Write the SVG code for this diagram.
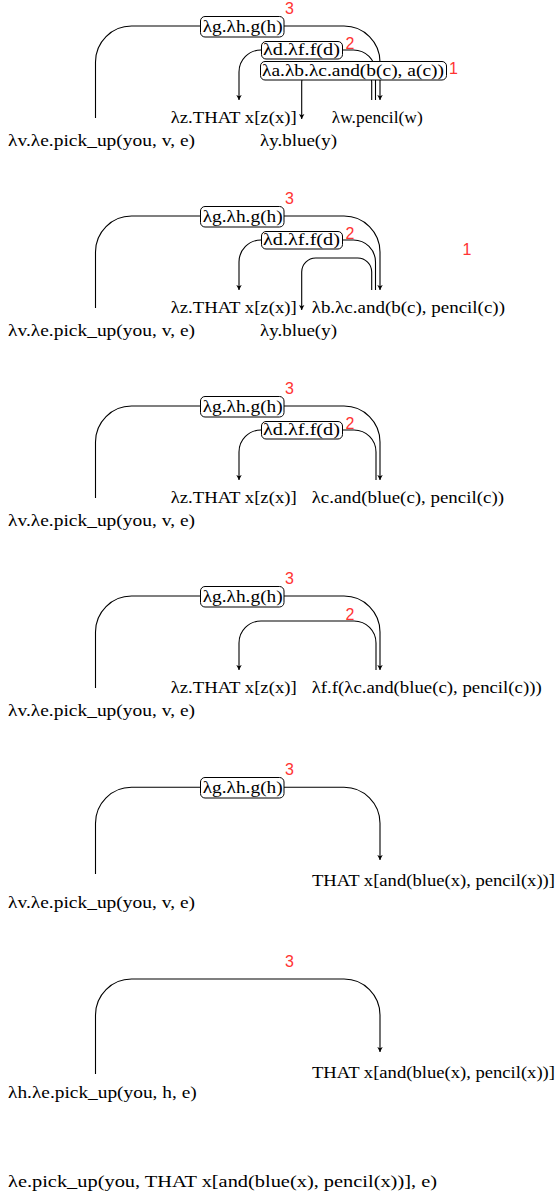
<svg xmlns="http://www.w3.org/2000/svg" width="558" height="1196" viewBox="0 0 558 1196">
<style>
.t{font-family:"Liberation Serif",serif;font-size:17px;fill:#000}
.n{font-family:"Liberation Sans",sans-serif;font-size:16px;fill:#f33}
.b{fill:#fff;stroke:#000;stroke-width:1}
.c{fill:none;stroke:#000;stroke-width:1.1}
.a{marker-end:url(#ah)}
</style>
<defs>
<marker id="ah" markerWidth="7" markerHeight="7" refX="5" refY="3" orient="auto" markerUnits="userSpaceOnUse">
<path d="M0,0.3 L5,3 L0,5.7 L1.3,3 z" fill="#000"/>
</marker>
</defs>
<rect width="558" height="1196" fill="#fff"/>

<g id="connectors">
<!-- panel 1 -->
<path class="c a" d="M95.5,118 V62 A36,36 0 0 1 131.5,26 H344 A36,36 0 0 1 380,62 V100"/>
<path class="c a" d="M375.5,100 V72 A22,22 0 0 0 353.5,50 H261 A22,22 0 0 0 239,72 V100"/>
<path class="c a" d="M371.7,100 V82 A14,14 0 0 0 357.7,68 H315.7 A14,14 0 0 0 301.7,82 V119"/>
<!-- panel 2 -->
<path class="c a" d="M95.5,308 V252 A36,36 0 0 1 131.5,216 H344 A36,36 0 0 1 380,252 V290"/>
<path class="c a" d="M375.5,290 V262 A22,22 0 0 0 353.5,240 H261 A22,22 0 0 0 239,262 V290"/>
<path class="c a" d="M371.7,290 V272 A14,14 0 0 0 357.7,258 H315.7 A14,14 0 0 0 301.7,272 V310"/>
<!-- panel 3 -->
<path class="c a" d="M95.5,498 V442 A36,36 0 0 1 131.5,406 H344 A36,36 0 0 1 380,442 V480"/>
<path class="c a" d="M376,480 V452 A22,22 0 0 0 354,430 H261 A22,22 0 0 0 239,452 V480"/>
<!-- panel 4 -->
<path class="c a" d="M95.5,688 V632 A36,36 0 0 1 131.5,596 H344 A36,36 0 0 1 380,632 V670"/>
<path class="c a" d="M376,670 V643 A22,22 0 0 0 354,621 H261 A22,22 0 0 0 239,643 V670"/>
<!-- panel 5 -->
<path class="c a" d="M95.5,874 V823.3 A36,36 0 0 1 131.5,787.3 H344 A36,36 0 0 1 380,823.3 V860"/>
<!-- panel 6 -->
<path class="c a" d="M95.5,1074 V1015 A36,36 0 0 1 131.5,979 H344 A36,36 0 0 1 380,1015 V1052"/>
</g>

<!-- panel 1 -->
<g id="p1-g"><rect class="b" x="200.5" y="16.5" width="83.5" height="20.5" rx="4.5"/><text class="t" x="202.7" y="31.5" textLength="80" lengthAdjust="spacingAndGlyphs">λg.λh.g(h)</text></g>
<g id="p1-n3"><text class="n" x="285" y="13.5">3</text></g>
<g id="p1-d"><rect class="b" x="261.5" y="41.5" width="81" height="17.5" rx="4.5"/><text class="t" x="263" y="55" textLength="77" lengthAdjust="spacingAndGlyphs">λd.λf.f(d)</text></g>
<g id="p1-n2"><text class="n" x="345.5" y="49">2</text></g>
<g id="p1-a"><rect class="b" x="260.5" y="61.5" width="186" height="18.5" rx="4.5"/><text class="t" x="262" y="75.5" textLength="182" lengthAdjust="spacingAndGlyphs">λa.λb.λc.and(b(c), a(c))</text></g>
<g id="p1-n1"><text class="n" x="449" y="74">1</text></g>
<g id="p1-z"><text class="t" x="170.7" y="123" textLength="126" lengthAdjust="spacingAndGlyphs">λz.THAT x[z(x)]</text></g>
<g id="p1-w"><text class="t" x="331.7" y="123" textLength="91" lengthAdjust="spacingAndGlyphs">λw.pencil(w)</text></g>
<g id="p1-v"><text class="t" x="8" y="146" textLength="187" lengthAdjust="spacingAndGlyphs">λv.λe.pick_up(you, v, e)</text></g>
<g id="p1-y"><text class="t" x="260" y="146" textLength="77" lengthAdjust="spacingAndGlyphs">λy.blue(y)</text></g>

<!-- panel 2 -->
<g id="p2-g"><rect class="b" x="200.5" y="206.5" width="83.5" height="20.5" rx="4.5"/><text class="t" x="202.7" y="221.5" textLength="80" lengthAdjust="spacingAndGlyphs">λg.λh.g(h)</text></g>
<g id="p2-n3"><text class="n" x="285" y="203.5">3</text></g>
<g id="p2-d"><rect class="b" x="261.5" y="231.5" width="81" height="17.5" rx="4.5"/><text class="t" x="263" y="245" textLength="77" lengthAdjust="spacingAndGlyphs">λd.λf.f(d)</text></g>
<g id="p2-n2"><text class="n" x="345.5" y="239">2</text></g>
<g id="p2-n1"><text class="n" x="462.5" y="255">1</text></g>
<g id="p2-z"><text class="t" x="170.7" y="313" textLength="126" lengthAdjust="spacingAndGlyphs">λz.THAT x[z(x)]</text></g>
<g id="p2-b"><text class="t" x="311.7" y="313" textLength="193.3" lengthAdjust="spacingAndGlyphs">λb.λc.and(b(c), pencil(c))</text></g>
<g id="p2-v"><text class="t" x="8" y="336" textLength="187" lengthAdjust="spacingAndGlyphs">λv.λe.pick_up(you, v, e)</text></g>
<g id="p2-y"><text class="t" x="260" y="336" textLength="77" lengthAdjust="spacingAndGlyphs">λy.blue(y)</text></g>

<!-- panel 3 -->
<g id="p3-g"><rect class="b" x="200.5" y="396.5" width="83.5" height="20.5" rx="4.5"/><text class="t" x="202.7" y="411.5" textLength="80" lengthAdjust="spacingAndGlyphs">λg.λh.g(h)</text></g>
<g id="p3-n3"><text class="n" x="285" y="393.5">3</text></g>
<g id="p3-d"><rect class="b" x="261.5" y="421.5" width="81" height="17.5" rx="4.5"/><text class="t" x="263" y="435" textLength="77" lengthAdjust="spacingAndGlyphs">λd.λf.f(d)</text></g>
<g id="p3-n2"><text class="n" x="345.5" y="429">2</text></g>
<g id="p3-z"><text class="t" x="170.7" y="503" textLength="126" lengthAdjust="spacingAndGlyphs">λz.THAT x[z(x)]</text></g>
<g id="p3-c"><text class="t" x="311.7" y="503" textLength="192.3" lengthAdjust="spacingAndGlyphs">λc.and(blue(c), pencil(c))</text></g>
<g id="p3-v"><text class="t" x="8" y="526" textLength="187" lengthAdjust="spacingAndGlyphs">λv.λe.pick_up(you, v, e)</text></g>

<!-- panel 4 -->
<g id="p4-g"><rect class="b" x="200.5" y="586.5" width="83.5" height="20.5" rx="4.5"/><text class="t" x="202.7" y="601.5" textLength="80" lengthAdjust="spacingAndGlyphs">λg.λh.g(h)</text></g>
<g id="p4-n3"><text class="n" x="285" y="583.5">3</text></g>
<g id="p4-n2"><text class="n" x="345.5" y="619.5">2</text></g>
<g id="p4-z"><text class="t" x="170.7" y="693" textLength="126" lengthAdjust="spacingAndGlyphs">λz.THAT x[z(x)]</text></g>
<g id="p4-f"><text class="t" x="311.7" y="693" textLength="230" lengthAdjust="spacingAndGlyphs">λf.f(λc.and(blue(c), pencil(c)))</text></g>
<g id="p4-v"><text class="t" x="8" y="716" textLength="187" lengthAdjust="spacingAndGlyphs">λv.λe.pick_up(you, v, e)</text></g>

<!-- panel 5 -->
<g id="p5-g"><rect class="b" x="200.5" y="777.5" width="83.5" height="20.5" rx="4.5"/><text class="t" x="202.7" y="792.5" textLength="80" lengthAdjust="spacingAndGlyphs">λg.λh.g(h)</text></g>
<g id="p5-n3"><text class="n" x="285" y="774.5">3</text></g>
<g id="p5-that"><text class="t" x="312" y="886" textLength="243" lengthAdjust="spacingAndGlyphs">THAT x[and(blue(x), pencil(x))]</text></g>
<g id="p5-v"><text class="t" x="8" y="907.5" textLength="187" lengthAdjust="spacingAndGlyphs">λv.λe.pick_up(you, v, e)</text></g>

<!-- panel 6 -->
<g id="p6-n3"><text class="n" x="285" y="966.5">3</text></g>
<g id="p6-that"><text class="t" x="312" y="1078" textLength="243" lengthAdjust="spacingAndGlyphs">THAT x[and(blue(x), pencil(x))]</text></g>
<g id="p6-h"><text class="t" x="8" y="1098" textLength="188.7" lengthAdjust="spacingAndGlyphs">λh.λe.pick_up(you, h, e)</text></g>

<!-- panel 7 -->
<g id="p7-e"><text class="t" x="8" y="1187" textLength="429" lengthAdjust="spacingAndGlyphs">λe.pick_up(you, THAT x[and(blue(x), pencil(x))], e)</text></g>
</svg>
